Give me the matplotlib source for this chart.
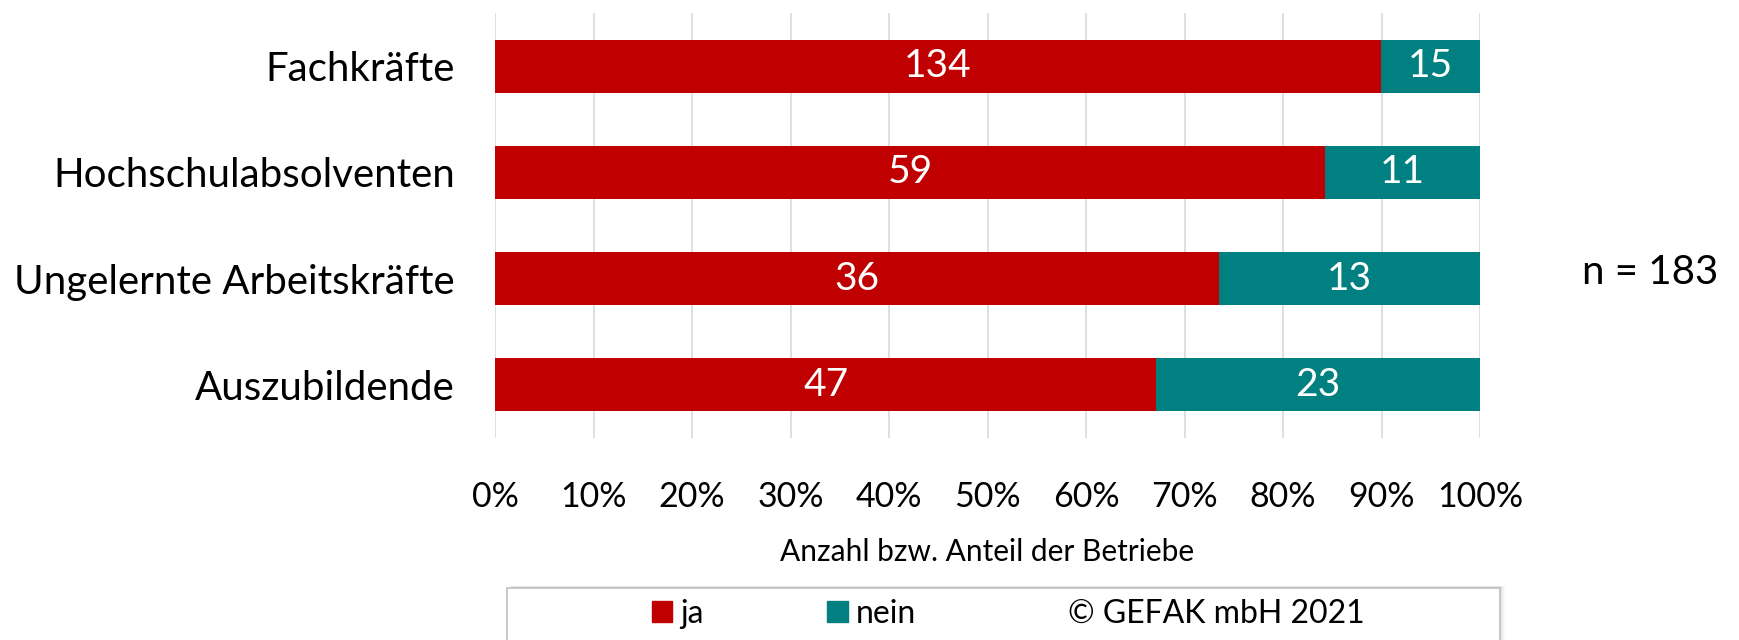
import matplotlib
matplotlib.use("Agg")
import matplotlib.pyplot as plt
from matplotlib.patches import Patch, Rectangle
import numpy as np

categories = ["Fachkräfte", "Hochschulabsolventen", "Ungelernte Arbeitskräfte", "Auszubildende"]
ja = [134, 59, 36, 47]
nein = [15, 11, 13, 23]
xticks = [0, 10, 20, 30, 40, 50, 60, 70, 80, 90, 100]
series_names = ["ja", "nein"]
copyright_text = "© GEFAK mbH 2021"
n_text = "n = 183"

RED = "#C00000"
TEAL = "#008080"

plt.rcParams['font.family'] = ['Lato', 'DejaVu Sans']

W, H = 1740, 640
fig = plt.figure(figsize=(W / 100, H / 100), dpi=100)
ax = fig.add_axes([495 / W, 1 - 438 / H, (1480 - 495) / W, (438 - 13) / H])

ja_a = np.array(ja, float)
nein_a = np.array(nein, float)
tot = ja_a + nein_a
ja_p = ja_a / tot * 100
nein_p = nein_a / tot * 100
y = np.arange(len(categories))[::-1]

b1 = ax.barh(y, ja_p, height=0.5, color=RED, zorder=3)
b2 = ax.barh(y, nein_p, left=ja_p, height=0.5, color=TEAL, zorder=3)
ax.bar_label(b1, labels=[str(v) for v in ja], label_type='center', color='white', fontsize=28)
ax.bar_label(b2, labels=[str(v) for v in nein], label_type='center', color='white', fontsize=28)

ax.set_xlim(0, 100)
ax.set_ylim(-0.5, 3.5)
ax.set_xticks(xticks)
ax.set_xticklabels([f"{t}%" for t in xticks], fontsize=24.5)
ax.set_yticks(y)
ax.set_yticklabels(categories, fontsize=29)
ax.tick_params(axis='x', length=0, pad=31)
ax.tick_params(axis='y', length=0, pad=29)
ax.grid(axis='x', color='#d9d9d9', linewidth=1.2, zorder=0)
for s in ax.spines.values():
    s.set_visible(False)
ax.set_xlabel("Anzahl bzw. Anteil der Betriebe", fontsize=21.5, labelpad=18)

fig.text(1650 / W, 1 - 272 / H, n_text, fontsize=29, ha='center', va='center')

# legend frame (extends beyond bottom like the reference)
for i, a in enumerate([0.10, 0.07, 0.04]):
    fig.patches.append(Rectangle(((507 + 2 + i * 2) / W, -0.05), (1500 - 507) / W, (640 - 586) / H + 0.05,
                                 transform=fig.transFigure, facecolor='gray', alpha=a, edgecolor='none', zorder=0))
fig.patches.append(Rectangle((507 / W, -0.05), (1500 - 507) / W, (640 - 588) / H + 0.05,
                             transform=fig.transFigure, facecolor='white', edgecolor='#bfbfbf', linewidth=1.2, zorder=1))

handles = [Patch(color=RED), Patch(color=TEAL), Patch(color='none')]
leg = fig.legend(handles, series_names + [copyright_text], ncol=3, frameon=False,
                 loc='center', bbox_to_anchor=(1008 / W, 1 - 614 / H), fontsize=23,
                 handlelength=0.65, handleheight=0.65, handletextpad=0.25, columnspacing=3.85)

fig.savefig("out.png", dpi=100)
